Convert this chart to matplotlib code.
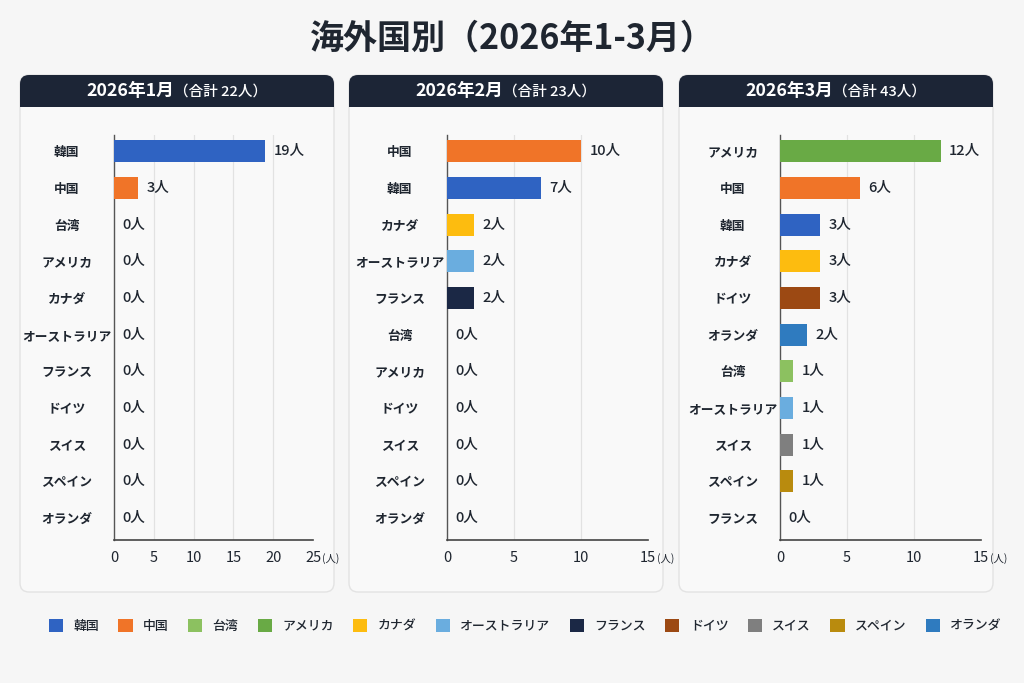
import matplotlib
matplotlib.use("Agg")
import matplotlib.pyplot as plt
from matplotlib.patches import FancyBboxPatch, Rectangle, Patch
from matplotlib.offsetbox import TextArea, HPacker, AnnotationBbox

plt.rcParams['font.family'] = ['Noto Sans CJK JP', 'DejaVu Sans']

# ---------------- data ----------------
title = "海外国別（2026年1-3月）"
countries = ["韓国", "中国", "台湾", "アメリカ", "カナダ", "オーストラリア",
             "フランス", "ドイツ", "スイス", "スペイン", "オランダ"]
colors = ["#2f63c2", "#f07428", "#8cc160", "#69aa45", "#fdbc0f", "#6aaddf",
          "#1b2845", "#9c4913", "#7f7f7f", "#b98b0e", "#2f7bbf"]

jan_months = "2026年1月"
feb_months = "2026年2月"
mar_months = "2026年3月"
totals = [22, 23, 43]

jan_order = ["韓国", "中国", "台湾", "アメリカ", "カナダ", "オーストラリア",
             "フランス", "ドイツ", "スイス", "スペイン", "オランダ"]
jan_values = [19, 3, 0, 0, 0, 0, 0, 0, 0, 0, 0]

feb_order = ["中国", "韓国", "カナダ", "オーストラリア", "フランス", "台湾",
             "アメリカ", "ドイツ", "スイス", "スペイン", "オランダ"]
feb_values = [10, 7, 2, 2, 2, 0, 0, 0, 0, 0, 0]

mar_order = ["アメリカ", "中国", "韓国", "カナダ", "ドイツ", "オランダ", "台湾",
             "オーストラリア", "スイス", "スペイン", "フランス"]
mar_values = [12, 6, 3, 3, 3, 2, 1, 1, 1, 1, 0]

x_max = [25, 15, 15]
x_ticks = [[0, 5, 10, 15, 20, 25], [0, 5, 10, 15], [0, 5, 10, 15]]
unit = "人"

# ---------------- figure ----------------
W, H = 10.24, 6.83
fig = plt.figure(figsize=(W, H), dpi=100)
bg = "#f6f6f6"
fig.patch.set_facecolor(bg)
dark = "#1c2536"
txt = "#1f2630"

fig.text(0.5, 1 - 38 / 683, title, ha="center", va="center",
         fontsize=24.5, fontweight="bold", color=txt)

card_x = [(20, 334), (349, 663), (679, 993)]
card_top, card_bot, head_bot = 75, 592, 107
inch = fig.dpi_scale_trans

def px(x, y):
    return x / 100.0, (683 - y) / 100.0

months = [jan_months, feb_months, mar_months]
orders = [jan_order, feb_order, mar_order]
values = [jan_values, feb_values, mar_values]
ax_lefts = [114, 447, 780]
ax_rights = [313, 648, 981]
ax_top, ax_bottom = 135, 540

for i, (x0, x1) in enumerate(card_x):
    # card body
    bx, by = px(x0, card_bot)
    card = FancyBboxPatch((bx, by), (x1 - x0) / 100, (card_bot - card_top) / 100,
                          boxstyle="round,pad=0,rounding_size=0.09",
                          transform=inch, facecolor="#f9f9f9",
                          edgecolor="#e3e3e3", linewidth=1.0, zorder=-3)
    fig.patches.append(card)
    # header
    hx, hy = px(x0, head_bot)
    head = FancyBboxPatch((hx, hy), (x1 - x0) / 100, (head_bot - card_top) / 100,
                          boxstyle="round,pad=0,rounding_size=0.09",
                          transform=inch, facecolor=dark, edgecolor="none",
                          zorder=-2)
    fig.patches.append(head)
    sq = Rectangle((hx, hy), (x1 - x0) / 100, 0.12, transform=inch,
                   facecolor=dark, edgecolor="none", zorder=-2)
    fig.patches.append(sq)
    # header text
    t1 = TextArea(months[i], textprops=dict(color="white", fontsize=12.8,
                                             fontweight="bold"))
    t2 = TextArea(f"（合計 {totals[i]}{unit}）",
                  textprops=dict(color="white", fontsize=10.5, fontweight="medium"))
    pack = HPacker(children=[t1, t2], align="baseline", pad=0, sep=0)
    cx, cy = px((x0 + x1) / 2, (card_top + head_bot) / 2)
    ab = AnnotationBbox(pack, (cx / W, cy / H), xycoords="figure fraction",
                        frameon=False, box_alignment=(0.5, 0.5), zorder=3)
    fig.add_artist(ab)

    # axes
    l = ax_lefts[i] / 1024
    w = (ax_rights[i] - ax_lefts[i]) / 1024
    b = 1 - ax_bottom / 683
    h = (ax_bottom - ax_top) / 683
    ax = fig.add_axes([l, b, w, h])
    ax.set_zorder(5)
    ax.set_facecolor("none")
    ypos = list(range(len(orders[i])))
    cols = [colors[countries.index(c)] for c in orders[i]]
    ax.barh(ypos, values[i], height=0.6, color=cols, edgecolor="none", zorder=3)
    for y, v in zip(ypos, values[i]):
        ax.annotate(f"{v}{unit}", (v, y), xytext=(6, 0), textcoords="offset points",
                    ha="left", va="center", fontsize=10.5, color=txt,
                    fontweight="medium", zorder=4)
    ax.set_ylim(10.6, -0.44)
    ax.set_xlim(0, x_max[i])
    ax.set_xticks(x_ticks[i])
    ax.set_xticklabels([str(t) for t in x_ticks[i]], fontsize=10.5, color=txt)
    ax.set_xticks([0, x_max[i]], minor=True)
    ax.tick_params(axis="x", which="major", length=0, pad=8)
    ax.tick_params(axis="x", which="minor", length=4, width=1.2, color="#444444")
    ax.set_yticks(ypos)
    ax.set_yticklabels(orders[i], fontsize=9.2, fontweight="bold", color=txt)
    ax.tick_params(axis="y", length=0, pad=34)
    for lab in ax.get_yticklabels():
        lab.set_horizontalalignment("center")
    ax.grid(axis="x", color="#e2e2e2", linewidth=0.9, zorder=0)
    gl = ax.get_xgridlines()
    gl[0].set_visible(False)
    gl[-1].set_visible(False)
    for s in ["top", "right"]:
        ax.spines[s].set_visible(False)
    ax.spines["left"].set_color("#555555")
    ax.spines["left"].set_linewidth(1.0)
    ax.spines["bottom"].set_color("#444444")
    ax.spines["bottom"].set_linewidth(1.2)
    ax.annotate(f"({unit})", (1, 0), xycoords="axes fraction", xytext=(6.5, -13.5),
                textcoords="offset points", ha="left", va="center",
                fontsize=7.5, color=txt)

handles = [Patch(facecolor=c, edgecolor="none", label=n) for c, n in zip(colors, countries)]
leg = fig.legend(handles=handles, loc="center", bbox_to_anchor=(0.513, 1 - 626 / 683),
                 ncol=11, frameon=False, fontsize=9.3, handlelength=1.1,
                 handleheight=1.1, handletextpad=0.8, columnspacing=1.5)
for t in leg.get_texts():
    t.set_color(txt)
    t.set_fontweight("medium")

fig.savefig("out.png", dpi=100, facecolor=bg)
